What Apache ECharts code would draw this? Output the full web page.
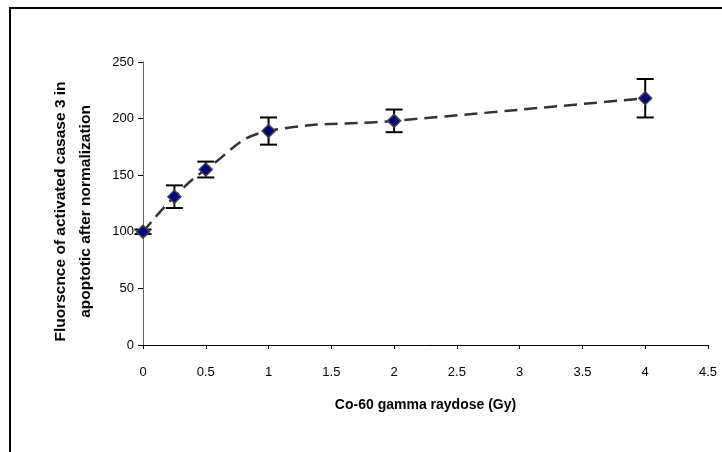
<!DOCTYPE html>
<html>
<head>
<meta charset="utf-8">
<script src="https://cdn.jsdelivr.net/npm/echarts@6/dist/echarts.min.js"></script>
<style>
  html, body { margin: 0; padding: 0; background: #fff; }
  #chart { width: 722px; height: 452px; }
</style>
</head>
<body>
<div id="chart"></div>
<script>
// dose (Gy), mean fluorescence and error bar half-widths
const dose = [0, 0.25, 0.5, 1, 2, 4];
const fluor = [100, 131, 155, 189, 198, 218];
const err = [2, 10, 7, 12, 10, 17];
const xTicks = [0, 0.5, 1, 1.5, 2, 2.5, 3, 3.5, 4, 4.5];
const yTicks = [0, 50, 100, 150, 200, 250];

const lineData = dose.map((d, i) => [d, fluor[i]]);
const errData = dose.map((d, i) => [d, fluor[i] - err[i], fluor[i] + err[i]]);

const font = "'Liberation Sans', Arial, sans-serif";

let myChart = echarts.init(document.getElementById('chart'));
myChart.setOption({
  animation: false,
  graphic: [
    {
      type: 'polyline',
      shape: { points: [[10, 460], [10, 8], [730, 8]] },
      style: { stroke: '#000', lineWidth: 2, fill: null },
      silent: true
    }
  ],
  grid: {
    left: 143,
    right: 14,
    top: 62,
    bottom: 107
  },
  xAxis: {
    type: 'value',
    min: xTicks[0],
    max: xTicks[xTicks.length - 1],
    interval: 0.5,
    name: 'Co-60 gamma raydose (Gy)',
    nameLocation: 'middle',
    nameGap: 53,
    nameTextStyle: { fontFamily: font, fontSize: 14, fontWeight: 'bold', color: '#000' },
    axisLine: { lineStyle: { color: '#000', width: 1 } },
    axisTick: { show: true, length: 4, lineStyle: { color: '#000' } },
    axisLabel: { fontFamily: font, fontSize: 13, color: '#000', margin: 21 },
    splitLine: { show: false }
  },
  yAxis: {
    type: 'value',
    min: yTicks[0],
    max: yTicks[yTicks.length - 1],
    interval: 50,
    name: 'Fluorscnce of activated casase 3 in\napoptotic after normalization',
    nameLocation: 'middle',
    nameRotate: 90,
    nameGap: 45,
    nameTextStyle: {
      fontFamily: font, fontSize: 15.5, fontWeight: 'bold', color: '#000',
      lineHeight: 25, padding: [0, 16, 0, 0]
    },
    axisLine: { show: true, lineStyle: { color: '#666', width: 1 } },
    axisTick: { show: true, length: 5, lineStyle: { color: '#000' } },
    axisLabel: { fontFamily: font, fontSize: 13, color: '#000', margin: 9 },
    splitLine: { show: false }
  },
  series: [
    {
      type: 'custom',
      data: errData,
      z: 2,
      renderItem: function (params, api) {
        const x = api.value(0);
        const lo = api.coord([x, api.value(1)]);
        const hi = api.coord([x, api.value(2)]);
        const w = 8.5;
        const style = { stroke: '#000', lineWidth: 2 };
        return {
          type: 'group',
          children: [
            { type: 'line', shape: { x1: lo[0], y1: lo[1], x2: hi[0], y2: hi[1] }, style: style },
            { type: 'line', shape: { x1: lo[0] - w, y1: lo[1], x2: lo[0] + w, y2: lo[1] }, style: style },
            { type: 'line', shape: { x1: hi[0] - w, y1: hi[1], x2: hi[0] + w, y2: hi[1] }, style: style }
          ]
        };
      }
    },
    {
      type: 'line',
      data: lineData,
      z: 3,
      smooth: 0.45,
      symbol: 'diamond',
      symbolSize: 13,
      lineStyle: { color: '#333', width: 2.5, type: [13, 7] },
      itemStyle: { color: '#000080', borderColor: '#444', borderWidth: 1.5 }
    }
  ]
});
</script>
</body>
</html>
